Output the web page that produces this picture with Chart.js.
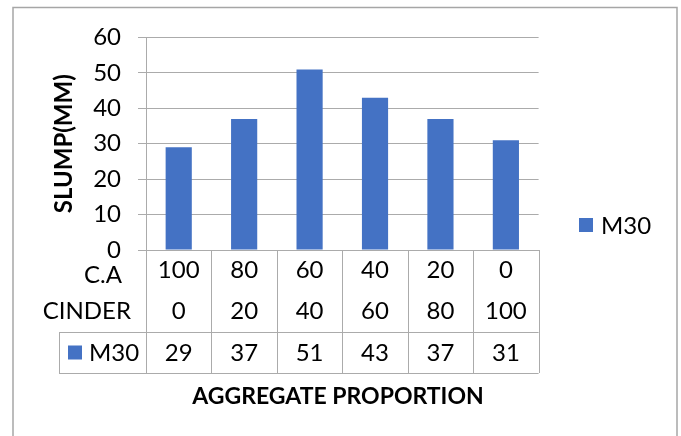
<!DOCTYPE html>
<html>
<head>
<meta charset="utf-8">
<script src="https://cdn.jsdelivr.net/npm/chart.js@4.4.0/dist/chart.umd.min.js"></script>
<style>
  html, body { margin: 0; padding: 0; background: #ffffff; }
  #wrap { width: 681px; height: 436px; position: relative; }
  canvas { display: block; }
</style>
</head>
<body>
<div id="wrap"><canvas id="chart" width="681" height="436"></canvas></div>
<script>
// Mix proportions (%) and measured slump
const coarseAggregate = [100, 80, 60, 40, 20, 0];
const cinder = [0, 20, 40, 60, 80, 100];
const slumpM30 = [29, 37, 51, 43, 37, 31];
const seriesName = 'M30';
const tableRowLabels = ['C.A', 'CINDER'];
const yAxisTitle = 'SLUMP(MM)';
const xAxisTitle = 'AGGREGATE PROPORTION';
const yMin = 0, yMax = 60, yStep = 10;

const BAR = '#4472C4';
const LINE = '#ababab';
const FONT = 'Lato, "Open Sans", sans-serif';
const TXT = 24;
const ROW_H = 41;

// two-line tick labels form the first two rows of the data table
const xLabels = coarseAggregate.map((v, i) => [String(v), String(cinder[i])]);

// Data table (third row, borders, row headers), legend and frame
const tablePlugin = {
  id: 'dataTable',
  afterDraw(chart) {
    const { ctx, chartArea } = chart;
    const x = chart.scales.x;
    const n = xLabels.length;
    const colW = (chartArea.right - chartArea.left) / n;
    const top = chartArea.bottom;
    const row3Top = top + ROW_H * 2;
    const bottom = top + ROW_H * 3;
    const headLeft = 59;

    ctx.save();
    ctx.strokeStyle = LINE;
    ctx.lineWidth = 1;
    ctx.beginPath();
    for (let i = 0; i <= n; i++) {
      const ex = Math.round(chartArea.left + i * colW) + 0.5;
      ctx.moveTo(ex, top);
      ctx.lineTo(ex, bottom);
    }
    ctx.moveTo(headLeft + 0.5, row3Top);
    ctx.lineTo(headLeft + 0.5, bottom);
    ctx.moveTo(headLeft, row3Top + 0.5);
    ctx.lineTo(chartArea.right, row3Top + 0.5);
    ctx.moveTo(headLeft, bottom + 0.5);
    ctx.lineTo(chartArea.right, bottom + 0.5);
    ctx.stroke();

    // row headers
    ctx.fillStyle = '#000';
    ctx.font = TXT + 'px ' + FONT;
    ctx.textAlign = 'right';
    ctx.textBaseline = 'middle';
    ctx.fillText(tableRowLabels[0], 122, top + ROW_H / 2 + 5);
    ctx.fillText(tableRowLabels[1], 131, top + ROW_H * 1.5);

    // series row
    const r3y = row3Top + ROW_H / 2;
    ctx.fillStyle = BAR;
    ctx.fillRect(68, r3y - 7, 14, 14);
    ctx.fillStyle = '#000';
    ctx.textAlign = 'left';
    ctx.fillText(seriesName, 89, r3y + 1);
    ctx.textAlign = 'center';
    slumpM30.forEach((v, i) => {
      ctx.fillText(String(v), x.getPixelForValue(i), r3y + 1);
    });

    // x axis title
    ctx.font = 'bold 23px ' + FONT;
    ctx.fillText(xAxisTitle, 338, 397);

    // legend
    ctx.fillStyle = BAR;
    ctx.fillRect(579, 218, 14, 14);
    ctx.fillStyle = '#000';
    ctx.font = TXT + 'px ' + FONT;
    ctx.textAlign = 'left';
    ctx.fillText(seriesName, 601, 226);

    // chart frame
    ctx.strokeStyle = '#a6a6a6';
    ctx.lineWidth = 1.5;
    ctx.strokeRect(13, 7.5, 664, 440);
    ctx.restore();
  }
};

function build() {
  new Chart(document.getElementById('chart'), {
    type: 'bar',
    data: {
      labels: xLabels,
      datasets: [{
        label: seriesName,
        data: slumpM30,
        backgroundColor: BAR,
        borderWidth: 0,
        categoryPercentage: 1,
        barPercentage: 0.4
      }]
    },
    options: {
      responsive: false,
      animation: false,
      devicePixelRatio: 1,
      layout: { padding: { top: 37.5, right: 142.4, bottom: 0, left: 0 } },
      plugins: {
        legend: { display: false },
        tooltip: { enabled: false }
      },
      scales: {
        x: {
          afterFit(s) { s.height = 186; },
          grid: { display: false, drawTicks: false },
          border: { display: true, color: LINE, width: 1 },
          ticks: {
            color: '#000',
            font: { family: FONT, size: TXT, lineHeight: '41px' },
            padding: 0,
            maxRotation: 0,
            autoSkip: false
          }
        },
        y: {
          min: yMin,
          max: yMax,
          afterFit(s) { s.width = 146; },
          grid: { color: LINE, lineWidth: 1, tickLength: 8, drawTicks: true },
          border: { display: true, color: LINE, width: 1 },
          ticks: {
            stepSize: yStep,
            color: '#000',
            font: { family: FONT, size: TXT },
            padding: 17
          },
          title: {
            display: true,
            text: yAxisTitle,
            color: '#000',
            font: { family: FONT, size: 24, weight: 'bold' },
            padding: { top: 50, bottom: 0 }
          }
        }
      }
    },
    plugins: [tablePlugin]
  });
}

Promise.all([
  document.fonts.load(TXT + 'px Lato'),
  document.fonts.load('bold 24px Lato')
]).then(build, build);
</script>
</body>
</html>
